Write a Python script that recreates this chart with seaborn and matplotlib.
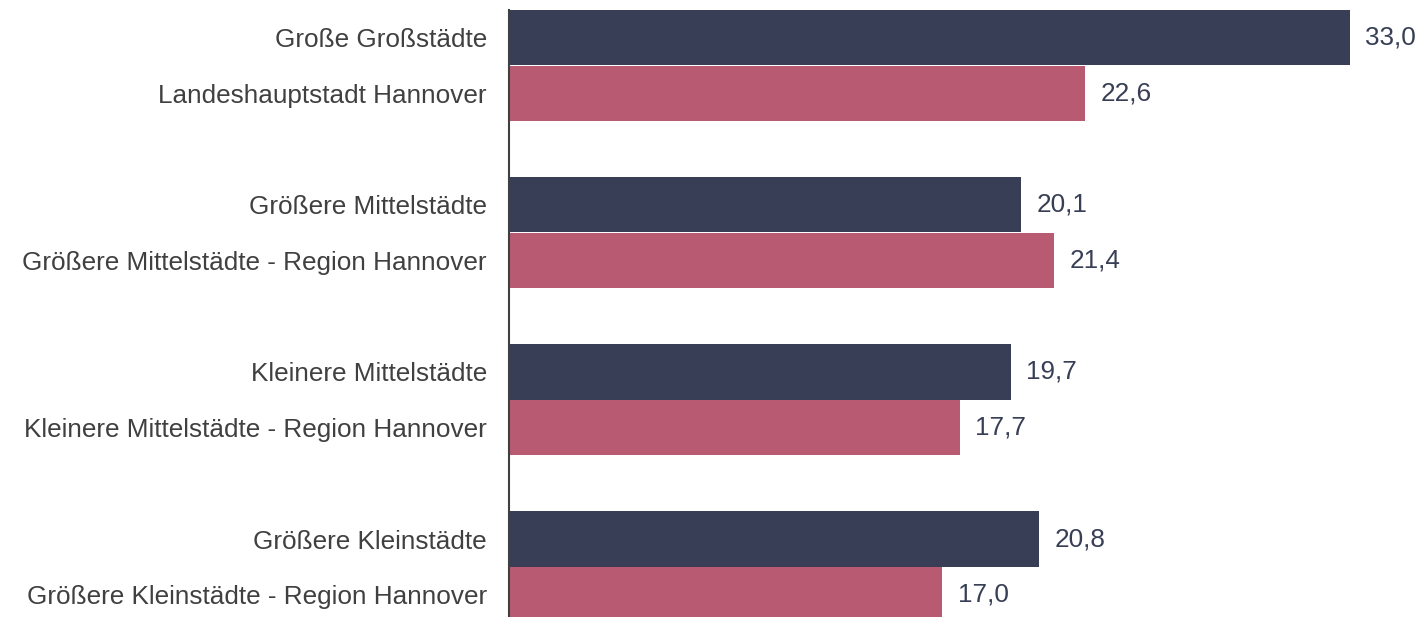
"""Horizontal grouped bars: Großstädte/Mittelstädte/Kleinstädte vs. Region Hannover."""

import matplotlib.pyplot as plt
import pandas as pd
import seaborn as sns

labels = [
    "Große Großstädte",
    "Landeshauptstadt Hannover",
    "Größere Mittelstädte",
    "Größere Mittelstädte - Region Hannover",
    "Kleinere Mittelstädte",
    "Kleinere Mittelstädte - Region Hannover",
    "Größere Kleinstädte",
    "Größere Kleinstädte - Region Hannover",
]
values = [33.0, 22.6, 20.1, 21.4, 19.7, 17.7, 20.8, 17.0]
series = ["Vergleich", "Hannover"] * 4

COLORS = {"Vergleich": "#373e55", "Hannover": "#b95a73"}
LABEL_COLOR = "#404040"
FONT_SIZE = 18.8


def main():
    sns.set_theme(style="white")
    plt.rcParams["font.family"] = ["Liberation Sans", "DejaVu Sans"]

    # two bars per group, one empty slot between groups
    pos = [(i // 2) * 3 + i % 2 for i in range(len(labels))]
    df = pd.DataFrame({"label": labels, "value": values, "series": series, "pos": pos})

    fig = plt.figure(figsize=(14.24, 6.17), dpi=100)
    ax = fig.add_axes([509 / 1424, 0, 1 - 509 / 1424, 1])

    sns.barplot(
        data=df,
        x="value",
        y="pos",
        hue="series",
        palette=COLORS,
        saturation=1,
        orient="h",
        native_scale=True,
        dodge=False,
        width=0.99,
        linewidth=0,
        legend=False,
        ax=ax,
    )

    for container in ax.containers:
        ax.bar_label(
            container,
            labels=[f"{v:.1f}".replace(".", ",") for v in container.datavalues],
            padding=11,
            fontsize=FONT_SIZE,
            color="#373e55",
        )

    ax.set_xlim(0, 35.9)
    ax.set_ylim(10.4, -0.68)
    ax.set_yticks(df["pos"])
    ax.set_yticklabels(df["label"], fontsize=FONT_SIZE, color=LABEL_COLOR)
    ax.set_xticks([])
    ax.tick_params(axis="y", length=0, pad=16)
    ax.set_xlabel("")
    ax.set_ylabel("")

    sns.despine(ax=ax, top=True, right=True, bottom=True, left=False)
    ax.spines["left"].set_color(LABEL_COLOR)
    ax.spines["left"].set_linewidth(1.5)
    ax.spines["left"].set_bounds(-0.5, 10.4)

    fig.savefig("out.png", dpi=100)
    plt.close(fig)


if __name__ == "__main__":
    main()
